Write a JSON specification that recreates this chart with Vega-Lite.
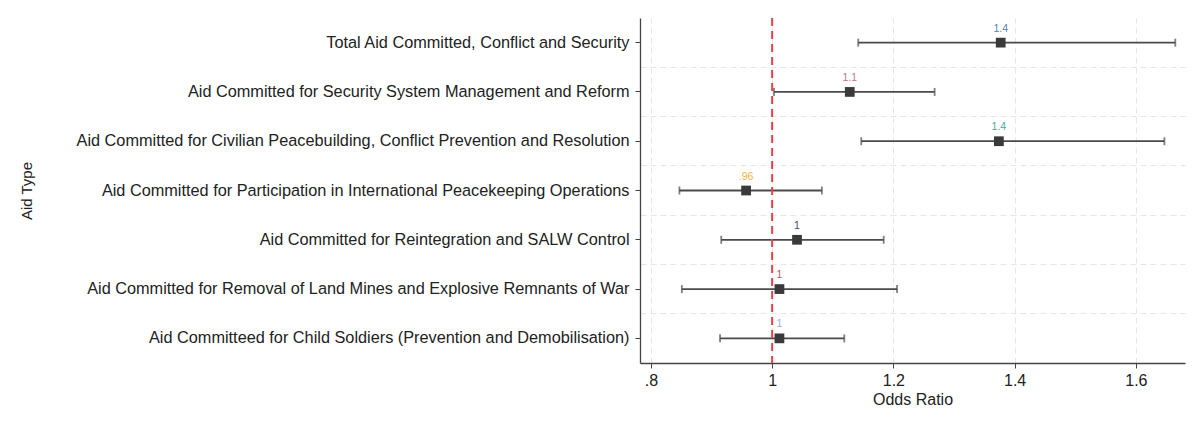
{
  "$schema": "https://vega.github.io/schema/vega-lite/v6.json",
  "autosize": "none",
  "width": 545,
  "height": 345,
  "padding": {"left": 640, "top": 18, "right": 15, "bottom": 66},
  "background": "white",
  "config": {
    "view": {"stroke": null},
    "font": "Liberation Sans",
    "axis": {"labelFont": "Liberation Sans", "titleFont": "Liberation Sans", "labelColor": "#222", "titleColor": "#222", "titleFontWeight": "normal"}
  },
  "data": {
    "values": [
      {"type": "Total Aid Committed, Conflict and Security", "ord": 1, "or": 1.377, "lo": 1.142, "hi": 1.665, "lab": "1.4", "col": "#4a7fd0"},
      {"type": "Aid Committed for Security System Management and Reform", "ord": 2, "or": 1.128, "lo": 1.003, "hi": 1.268, "lab": "1.1", "col": "#c57585"},
      {"type": "Aid Committed for Civilian Peacebuilding, Conflict Prevention and Resolution", "ord": 3, "or": 1.374, "lo": 1.147, "hi": 1.647, "lab": "1.4", "col": "#3fae9a"},
      {"type": "Aid Committed for Participation in International Peacekeeping Operations", "ord": 4, "or": 0.957, "lo": 0.847, "hi": 1.082, "lab": ".96", "col": "#f2b33d"},
      {"type": "Aid Committed for Reintegration and SALW Control", "ord": 5, "or": 1.041, "lo": 0.916, "hi": 1.184, "lab": "1", "col": "#3e4e66"},
      {"type": "Aid Committed for Removal of Land Mines and Explosive Remnants of War", "ord": 6, "or": 1.012, "lo": 0.851, "hi": 1.206, "lab": "1", "col": "#c8505a"},
      {"type": "Aid Committeed for Child Soldiers (Prevention and Demobilisation)", "ord": 7, "or": 1.012, "lo": 0.914, "hi": 1.119, "lab": "1", "col": "#8fb0e0"}
    ]
  },
  "resolve": {"axis": {"y": "independent"}},
  "encoding": {
    "y": {"field": "type", "type": "nominal", "sort": {"field": "ord", "op": "min", "order": "ascending"}, "scale": {"paddingInner": 0, "paddingOuter": 0}, "axis": null}
  },
  "layer": [
    {
      "mark": {"type": "rule", "color": "#4a4a4a", "strokeWidth": 1.8},
      "encoding": {
        "x": {"field": "lo", "type": "quantitative", "scale": {"domain": [0.782, 1.681], "nice": false, "zero": false},
          "axis": {"values": [0.8, 1, 1.2, 1.4, 1.6], "labelExpr": "datum.value < 1 ? '.8' : format(datum.value, '~g')", "title": "Odds Ratio", "labelFontSize": 16, "titleFontSize": 16, "labelPadding": 4, "titlePadding": 3, "tickSize": 5, "domainColor": "#444", "tickColor": "#444", "grid": true, "gridColor": "#e6e6e6", "gridDash": [6, 4], "domainWidth": 1.3}},
        "x2": {"field": "hi"},
        "y": {"field": "type", "type": "nominal", "sort": {"field": "ord", "op": "min", "order": "ascending"},
          "axis": {"orient": "left", "title": "Aid Type", "titleFontSize": 15, "labelFontSize": 16.3, "labelLimit": 700, "tickSize": 5, "labelPadding": 6, "domainColor": "#444", "tickColor": "#444", "domainWidth": 1.3, "grid": false, "titleX": -606}}
      }
    },
    {
      "mark": {"type": "tick", "color": "#4a4a4a", "thickness": 1.8, "size": 8},
      "encoding": {
        "x": {"field": "lo", "type": "quantitative"},
        "y": {"field": "type", "type": "nominal", "sort": {"field": "ord", "op": "min", "order": "ascending"},
          "axis": {"orient": "left", "title": null, "labels": false, "ticks": false, "domain": false, "grid": true, "bandPosition": 0, "gridColor": "#e6e6e6", "gridDash": [6, 4],
            "gridOpacity": {"condition": {"test": "datum.index == 0", "value": 0}, "value": 1}}}
      }
    },
    {
      "mark": {"type": "tick", "color": "#4a4a4a", "thickness": 1.8, "size": 8},
      "encoding": {
        "x": {"field": "hi", "type": "quantitative"}
      }
    },
    {
      "data": {"values": [{"v": 1}]},
      "mark": {"type": "rule", "color": "#e8404a", "strokeWidth": 2, "strokeDash": [8, 5]},
      "encoding": {"x": {"field": "v", "type": "quantitative"}, "y": {"value": 0}, "y2": {"value": 345}}
    },
    {
      "mark": {"type": "point", "shape": "square", "filled": true, "size": 95, "color": "#3a3a3a", "opacity": 1},
      "encoding": {"x": {"field": "or", "type": "quantitative"}}
    },
    {
      "mark": {"type": "text", "fontSize": 10.5, "dy": -9, "baseline": "bottom"},
      "encoding": {
        "x": {"field": "or", "type": "quantitative"},
        "text": {"field": "lab"},
        "color": {"field": "col", "type": "nominal", "scale": null}
      }
    }
  ]
}
